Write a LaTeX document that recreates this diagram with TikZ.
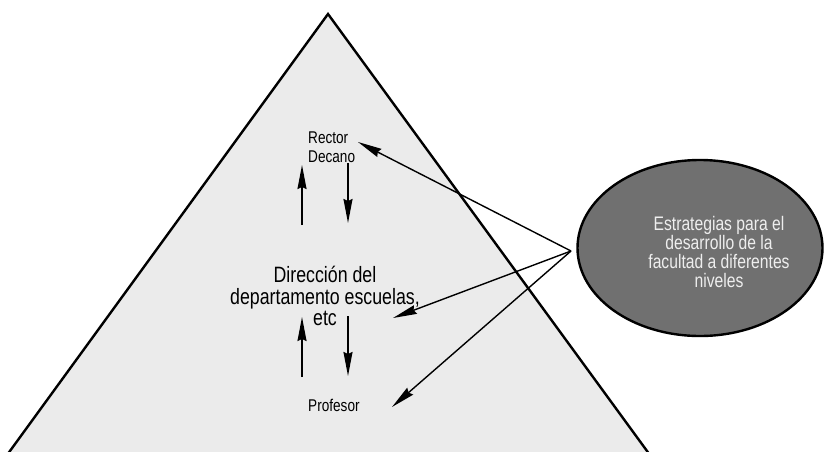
\documentclass[tikz,border=0pt]{standalone}
\usepackage{fontspec}
\setmainfont{Liberation Sans}[FakeStretch=0.8]
\usetikzlibrary{%
  arrows.meta,%
  shapes.geometric,% wg. ellipse
  positioning%
}
\definecolor{pyrfill}{HTML}{EBEBEB}
\definecolor{ovalfill}{HTML}{707070}
\definecolor{ovaltext}{HTML}{EEEEEE}

\begin{document}
\begin{tikzpicture}[x=1pt, y=-1pt,
    smalltxt/.style = {align=left, anchor=west, font=\fontsize{17}{19.4}\selectfont, inner sep=0pt},
    bigtxt/.style = {align=center, font=\fontsize{22.2}{21.5}\selectfont, inner sep=0pt},
    oval/.style = {ellipse, draw=black, line width=2.4pt, fill=ovalfill,
                   minimum width=245pt, minimum height=176pt, inner sep=0pt},
    ovaltxt/.style = {align=center, text=ovaltext, font=\fontsize{19.6}{19}\selectfont, inner sep=0pt},
    flow/.style = {-{Stealth[length=24pt, width=9pt, inset=2pt]}, line width=1.6pt},
    pointer/.style = {-{Stealth[length=24pt, width=9pt, inset=2pt]}, line width=1.4pt}]
  \clip (0,0) rectangle (825,451);

  % piramide
  \coordinate (apex)  at (328,14);
  \coordinate (left)  at (3.4,460);
  \coordinate (right) at (653.6,460);
  \draw[line width=2.4pt, line join=miter, fill=pyrfill] (apex) -- (right) -- (left) -- cycle;

  % niveles
  \node[smalltxt] (rector)    at (308,147) {Rector\\Decano};
  \node[bigtxt]   (direccion) at (325,296) {Dirección del\\departamento escuelas,\\etc};
  \node[smalltxt] (profesor)  at (308,405.5) {Profesor};

  % ovalo
  \node[oval] (estrategia) at (700,248) {};
  \node[ovaltxt] (estrategiatxt) at (719,251.5)
    {Estrategias para el\\desarrollo de la\\facultad a diferentes\\niveles};

  % flujo vertical
  \coordinate (up1a) at (302,225);  \coordinate (up1b) at (302,165);
  \coordinate (dn1a) at (348,163);  \coordinate (dn1b) at (348,223);
  \coordinate (up2a) at (302,377);  \coordinate (up2b) at (302,317);
  \coordinate (dn2a) at (348,316);  \coordinate (dn2b) at (348,376);
  \draw[flow] (up1a) -- (up1b);
  \draw[flow] (dn1a) -- (dn1b);
  \draw[flow] (up2a) -- (up2b);
  \draw[flow] (dn2a) -- (dn2b);

  % estrategias hacia los niveles
  \coordinate (hub) at (571,251);
  \coordinate (toRector)    at (358,142);
  \coordinate (toDireccion) at (393,318);
  \coordinate (toProfesor)  at (392,407);
  \draw[pointer] (hub) -- (toRector);
  \draw[pointer] (hub) -- (toDireccion);
  \draw[pointer] (hub) -- (toProfesor);
\end{tikzpicture}
\end{document}
